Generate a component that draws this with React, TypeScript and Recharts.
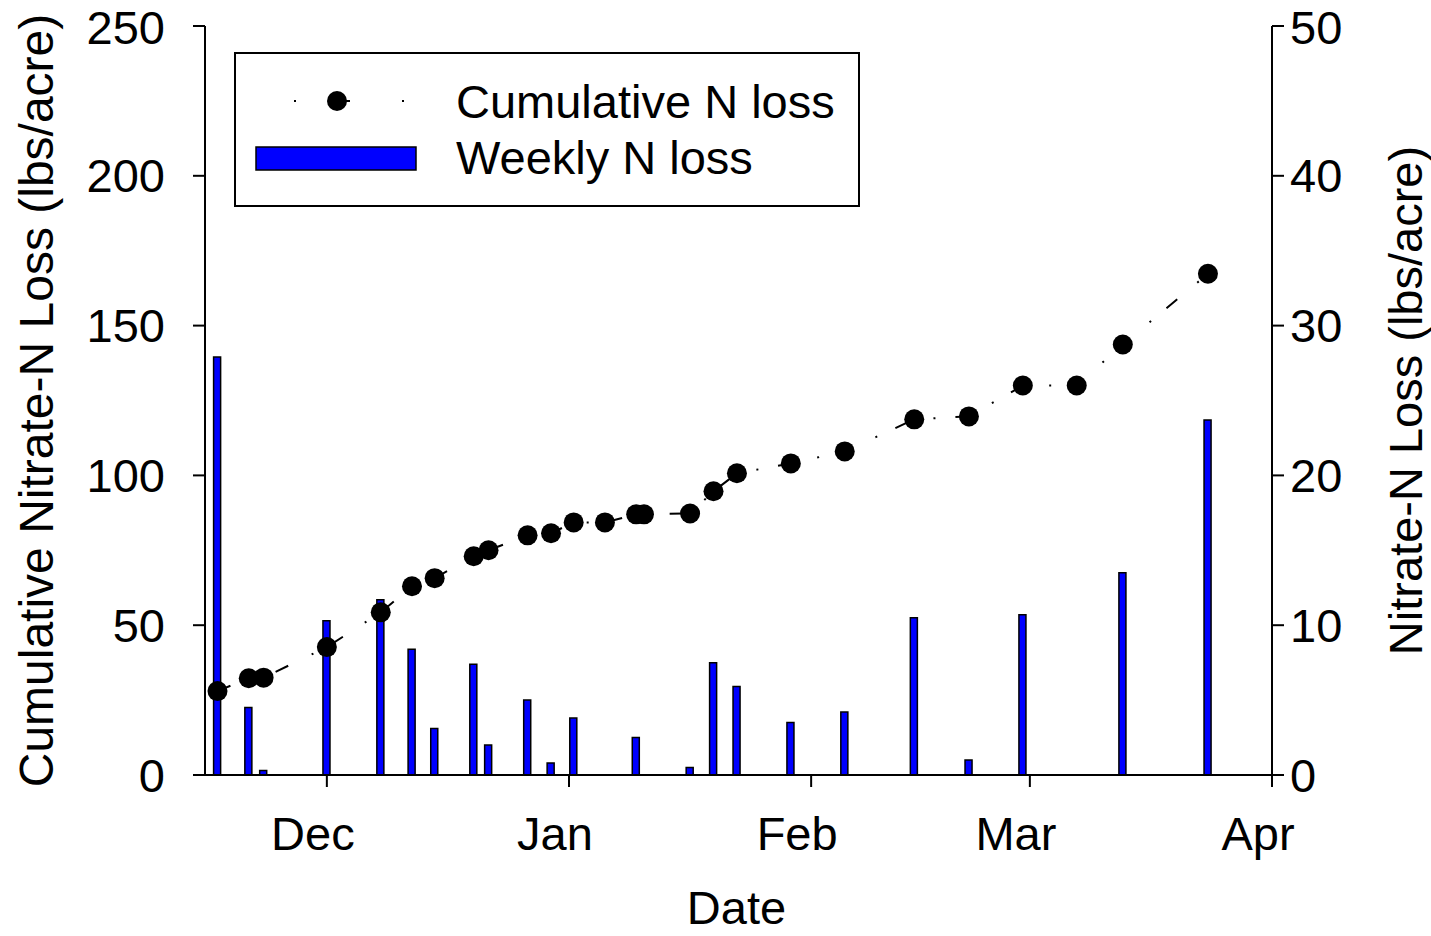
import React from 'react';
import { ComposedChart, Bar, Line, XAxis, YAxis, Legend } from 'recharts';

// days counted from Dec 1
const sampleDays = [-14, -10, -8.1, 0, 6.9, 10.9, 13.8, 18.8, 20.7, 25.7, 28.7, 31.6, 35.6, 39.6, 40.6, 46.5, 49.5, 52.5, 59.4, 66.3, 75.2, 82.2, 89.1, 96, 101.9, 112.8];
const cumulativeLoss = [28, 32.3, 32.5, 42.7, 54.3, 63, 65.7, 73, 75, 80, 80.7, 84.3, 84.3, 87, 87, 87.3, 94.7, 100.7, 104, 108, 118.7, 119.7, 130, 130, 143.7, 167.3];
const weeklyLoss = [27.9, 4.5, 0.3, 10.3, 11.7, 8.4, 3.1, 7.4, 2.0, 5.0, 0.8, 3.8, null, 2.5, null, 0.5, 7.5, 5.9, 3.5, 4.2, 10.5, 1.0, 10.7, null, 13.5, 23.7];

const monthTicks = [0, 31, 62, 90, 121];
const monthLabels = ['Dec', 'Jan', 'Feb', 'Mar', 'Apr'];
const leftTicks = [0, 50, 100, 150, 200, 250];
const rightTicks = [0, 10, 20, 30, 40, 50];

const data = sampleDays.map((d, i) => ({
  day: d,
  cumulative: cumulativeLoss[i],
  weekly: weeklyLoss[i],
}));

const FONT = "'Liberation Sans', Arial, sans-serif";
const axisStroke = { stroke: '#000', strokeWidth: 2 };

const MonthTick = (props: any) => {
  const { x, y, payload } = props;
  const idx = monthTicks.indexOf(payload.value);
  return (
    <text x={x - 14} y={y} dy="0.71em" textAnchor="middle" fontSize={47} fontFamily={FONT} fill="#000">
      {monthLabels[idx]}
    </text>
  );
};

const Dot = (props: any) => {
  const { cx, cy } = props;
  if (cx == null || cy == null) return null;
  return <circle cx={cx} cy={cy} r={10} fill="#000" />;
};

const LegendBox = () => (
  <svg width={626} height={155} style={{ display: 'block' }}>
    <rect x={1} y={1} width={624} height={153} fill="#fff" stroke="#000" strokeWidth={2} />
    <line x1={60} y1={49} x2={170} y2={49} stroke="#000" strokeWidth={2} strokeDasharray="2 52" />
    <line x1={112} y1={49} x2={116} y2={49} stroke="#000" strokeWidth={2} />
    <circle cx={103} cy={49} r={10} fill="#000" />
    <text x={222} y={66} fontSize={47} fontFamily={FONT} fill="#000">Cumulative N loss</text>
    <rect x={22} y={95} width={160} height={23} fill="#0000ff" stroke="#000" strokeWidth={1.5} />
    <text x={222} y={122} fontSize={47} fontFamily={FONT} fill="#000">Weekly N loss</text>
  </svg>
);

export default function App() {
  return (
    <div style={{ position: 'absolute', left: 0, top: 0 }}>
      <ComposedChart width={1431} height={936} data={data} margin={{ top: 26, right: 0, bottom: 0, left: 0 }}>
        <XAxis
          dataKey="day"
          type="number"
          domain={[-15.6, 121]}
          ticks={monthTicks}
          height={161}
          axisLine={axisStroke}
          tickLine={axisStroke}
          tickSize={12}
          tickMargin={30}
          tick={<MonthTick />}
          allowDataOverflow
          label={{
            content: (p: any) => {
              const vb = p.viewBox;
              return (
                <text x={vb.x + vb.width / 2 - 2} y={vb.y + 149} textAnchor="middle" fontSize={47} fontFamily={FONT} fill="#000">
                  Date
                </text>
              );
            },
          }}
        />
        <YAxis
          yAxisId="left"
          domain={[0, 250]}
          ticks={leftTicks}
          width={205}
          axisLine={axisStroke}
          tickLine={axisStroke}
          tickSize={12}
          tickMargin={28}
          tick={{ fontSize: 47, fontFamily: FONT, fill: '#000' }}
          label={{
            content: (p: any) => {
              const vb = p.viewBox;
              const cx = vb.x + 53;
              const cy = vb.y + vb.height / 2;
              return (
                <text transform={`translate(${cx},${cy}) rotate(-90)`} textAnchor="middle" fontSize={48} fontFamily={FONT} fill="#000">
                  Cumulative Nitrate-N Loss (lbs/acre)
                </text>
              );
            },
          }}
        />
        <YAxis
          yAxisId="right"
          orientation="right"
          domain={[0, 50]}
          ticks={rightTicks}
          width={159}
          axisLine={axisStroke}
          tickLine={axisStroke}
          tickSize={12}
          tickMargin={6}
          tick={{ fontSize: 47, fontFamily: FONT, fill: '#000' }}
          label={{
            content: (p: any) => {
              const vb = p.viewBox;
              const cx = vb.x + 150;
              const cy = vb.y + vb.height / 2;
              return (
                <text transform={`translate(${cx},${cy}) rotate(-90)`} textAnchor="middle" fontSize={47} fontFamily={FONT} fill="#000">
                  Nitrate-N Loss (lbs/acre)
                </text>
              );
            },
          }}
        />
        <Legend
          layout="horizontal"
          verticalAlign="middle"
          align="center"
          content={() => <LegendBox />}
          wrapperStyle={{ position: 'absolute', left: 234, top: 52, width: 626, height: 155 }}
        />
        <Bar
          yAxisId="right"
          dataKey="weekly"
          name="Weekly N loss"
          barSize={8}
          fill="#0000ff"
          stroke="#000"
          strokeWidth={1.5}
          isAnimationActive={false}
        />
        <Line
          yAxisId="left"
          type="linear"
          dataKey="cumulative"
          name="Cumulative N loss"
          stroke="#000"
          strokeWidth={2}
          strokeDasharray="14 26 2 20"
          dot={<Dot />}
          activeDot={false}
          isAnimationActive={false}
        />
      </ComposedChart>
    </div>
  );
}
